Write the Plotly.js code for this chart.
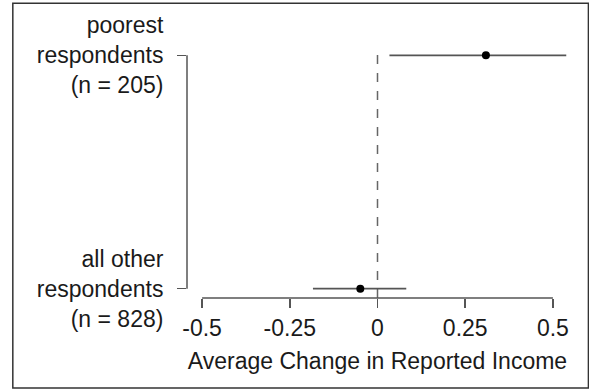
<!DOCTYPE html>
<html>
<head>
<meta charset="utf-8">
<script src="https://cdn.plot.ly/plotly-3.0.1.min.js"></script>
<style>html,body{margin:0;padding:0;background:#fff;}#chart{width:589px;height:390px;}</style>
</head>
<body>
<div id="chart"></div>
<script>
const groups = ["all other respondents (n = 828)", "poorest respondents (n = 205)"];
const groupPos = [1, 2];
const groupLabels = ["all other<br>respondents<br>(n = 828)", "poorest<br>respondents<br>(n = 205)"];
const estimates = [-0.049, 0.309];
const ciLow = [-0.184, 0.034];
const ciHigh = [0.082, 0.538];
const xTickVals = [-0.5, -0.25, 0, 0.25, 0.5];
const xTickText = ["-0.5", "-0.25", "0", "0.25", "0.5"];

const axisColor = "#555";
const textColor = "#1a1a1a";
const fontFam = "Liberation Sans, Arial, sans-serif";

const trace = {
  type: "scatter",
  mode: "markers",
  x: estimates,
  y: groupPos,
  text: groups,
  marker: {color: "#000", size: 8},
  error_x: {
    type: "data",
    symmetric: false,
    array: estimates.map((e, i) => ciHigh[i] - e),
    arrayminus: estimates.map((e, i) => e - ciLow[i]),
    width: 0,
    thickness: 1.6,
    color: axisColor
  },
  hoverinfo: "x+text",
  showlegend: false
};

const W = 589, H = 390;
const L = 187, R = 21.4, T = 45.7, B = 92;
const pw = W - L - R, ph = H - T - B;
const px2x = p => (p - L) / pw;
const py2y = p => (H - B - p) / ph;

const layout = {
  width: W, height: H,
  margin: {l: L, r: R, t: T, b: B, pad: 0},
  paper_bgcolor: "#fff",
  plot_bgcolor: "#fff",
  font: {family: fontFam, size: 23, color: textColor},
  xaxis: {
    range: [-0.543, 0.543],
    tickvals: xTickVals,
    ticktext: xTickText,
    ticks: "outside",
    ticklen: 9,
    tickwidth: 1.5,
    tickcolor: axisColor,
    showline: false,
    showgrid: false,
    zeroline: false,
    tickfont: {size: 23, color: textColor},
    title: {text: "Average Change in Reported Income", font: {size: 23, color: textColor}, standoff: 13},
    fixedrange: true
  },
  yaxis: {
    range: [0.96, 2.04],
    tickvals: groupPos,
    ticktext: groupLabels,
    ticks: "outside",
    ticklen: 9,
    tickwidth: 1.5,
    tickcolor: axisColor,
    ticklabelstandoff: 9,
    showline: false,
    showgrid: false,
    zeroline: false,
    tickfont: {size: 23, color: textColor},
    fixedrange: true
  },
  shapes: [
    {type: "line", xref: "x", yref: "paper", x0: 0, x1: 0, y0: 0, y1: 1,
     line: {color: "#666", width: 1.5, dash: "dash"}, layer: "below"},
    {type: "line", xref: "x", yref: "paper", x0: xTickVals[0], x1: xTickVals[xTickVals.length - 1], y0: 0, y1: 0,
     line: {color: axisColor, width: 1.5}},
    {type: "line", xref: "paper", yref: "y", x0: 0, x1: 0, y0: groupPos[0], y1: groupPos[1],
     line: {color: axisColor, width: 1.5}},
    {type: "rect", xref: "paper", yref: "paper",
     x0: px2x(13), x1: px2x(588), y0: py2y(388), y1: py2y(3),
     line: {color: "#333", width: 1.5}, fillcolor: "rgba(0,0,0,0)"}
  ]
};

Plotly.newPlot("chart", [trace], layout, {displayModeBar: false, staticPlot: true});
</script>
</body>
</html>
